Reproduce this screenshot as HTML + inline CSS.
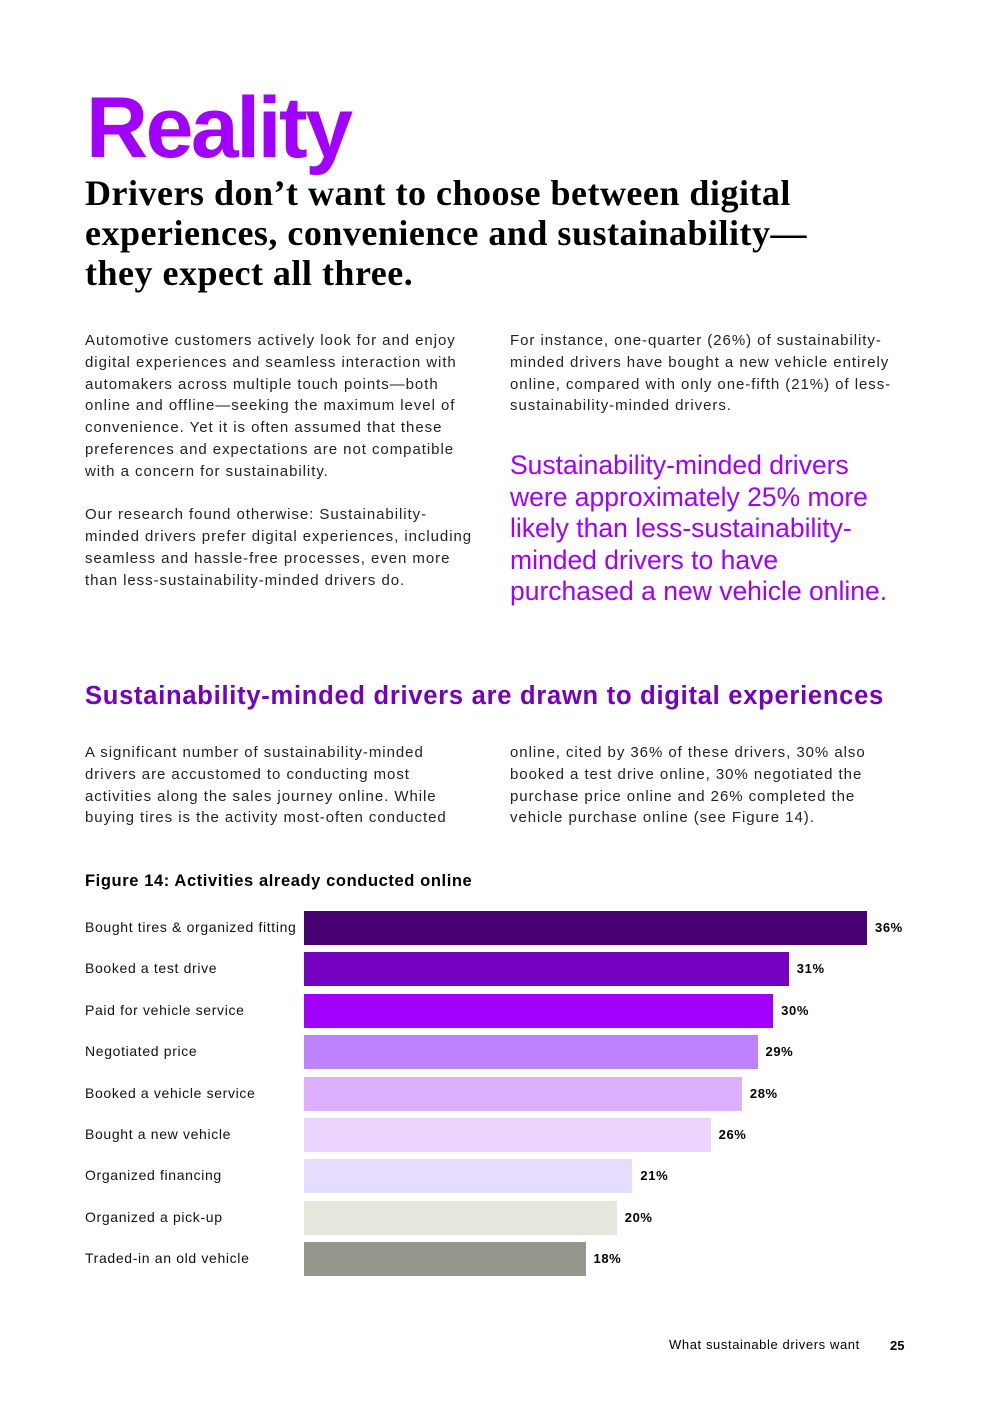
<!DOCTYPE html>
<html><head><meta charset="utf-8"><style>
body{margin:0;width:992px;height:1403px;background:#fff;position:relative;font-family:"Liberation Sans",sans-serif;color:#000;overflow:hidden}
.a{position:absolute;margin:0}
.body{font-size:15px;line-height:21.8px;color:#222;letter-spacing:0.95px;white-space:nowrap}
.lbl{position:absolute;left:85px;font-size:14px;color:#111;letter-spacing:0.65px}
.val{position:absolute;font-size:13px;font-weight:bold;letter-spacing:0.6px}
</style></head><body>
<h1 class="a" style="left:86px;top:80px;font-size:86px;font-weight:bold;color:#a100ff;letter-spacing:-2.5px;line-height:96px">Reality</h1>
<h2 class="a" style="left:85px;top:173px;font-family:'Liberation Serif',serif;font-size:36px;font-weight:bold;line-height:40px;letter-spacing:0.5px">Drivers don’t want to choose between digital<br>experiences, convenience and sustainability—<br>they expect all three.</h2>
<p class="a body" style="left:85px;top:330px">Automotive customers actively look for and enjoy<br>digital experiences and seamless interaction with<br>automakers across multiple touch points—both<br>online and offline—seeking the maximum level of<br>convenience. Yet it is often assumed that these<br>preferences and expectations are not compatible<br>with a concern for sustainability.<br><br>Our research found otherwise: Sustainability-<br>minded drivers prefer digital experiences, including<br>seamless and hassle-free processes, even more<br>than less-sustainability-minded drivers do.</p>
<p class="a body" style="left:510px;top:330px">For instance, one-quarter (26%) of sustainability-<br>minded drivers have bought a new vehicle entirely<br>online, compared with only one-fifth (21%) of less-<br>sustainability-minded drivers.</p>
<p class="a" style="left:510px;top:450px;font-size:26.5px;line-height:31.6px;color:#a100ff">Sustainability-minded drivers<br>were approximately 25% more<br>likely than less-sustainability-<br>minded drivers to have<br>purchased a new vehicle online.</p>
<h3 class="a" style="left:85px;top:682px;font-size:25.5px;font-weight:bold;color:#7500c0;letter-spacing:0.75px;white-space:nowrap">Sustainability-minded drivers are drawn to digital experiences</h3>
<p class="a body" style="left:85px;top:742px">A significant number of sustainability-minded<br>drivers are accustomed to conducting most<br>activities along the sales journey online. While<br>buying tires is the activity most-often conducted</p>
<p class="a body" style="left:510px;top:742px">online, cited by 36% of these drivers, 30% also<br>booked a test drive online, 30% negotiated the<br>purchase price online and 26% completed the<br>vehicle purchase online (see Figure 14).</p>
<div class="a" style="left:85px;top:872px;font-size:16.5px;font-weight:bold;letter-spacing:0.6px">Figure 14: Activities already conducted online</div>
<div id="chart"></div>
<div class="a" style="left:669px;top:1337px;font-size:13px;letter-spacing:0.6px">What sustainable drivers want</div>
<div class="a" style="left:890px;top:1338px;font-size:13px;font-weight:bold">25</div>
<script>
const categories=["Bought tires & organized fitting","Booked a test drive","Paid for vehicle service","Negotiated price","Booked a vehicle service","Bought a new vehicle","Organized financing","Organized a pick-up","Traded-in an old vehicle"];
const values=[36,31,30,29,28,26,21,20,18];
const colors=["#460073","#7500c0","#a100ff","#be82ff","#dcafff","#ebd5ff","#e6dcff","#e6e6dc","#96968c"];
const x0=304,pxPer=563/36,y0=911,step=41.4,bh=34;
const xs=v=>v*pxPer, ys=i=>y0+i*step;
const c=document.getElementById('chart');
values.forEach((v,i)=>{
 const b=document.createElement('div');
 
 
 b.style.cssText=`position:absolute;left:${x0}px;top:${ys(i)}px;width:${xs(v)}px;height:${bh}px;background:${colors[i]}`;
 c.appendChild(b);
 const l=document.createElement('div');
 
 
 l.className='lbl';l.style.top=(ys(i)+8)+'px';l.textContent=categories[i];
 c.appendChild(l);
 const t=document.createElement('div');
 
 
 t.className='val';t.style.left=(x0+xs(v)+8)+'px';t.style.top=(ys(i)+9)+'px';t.textContent=v+'%';
 c.appendChild(t);
});
</script>
</body></html>
